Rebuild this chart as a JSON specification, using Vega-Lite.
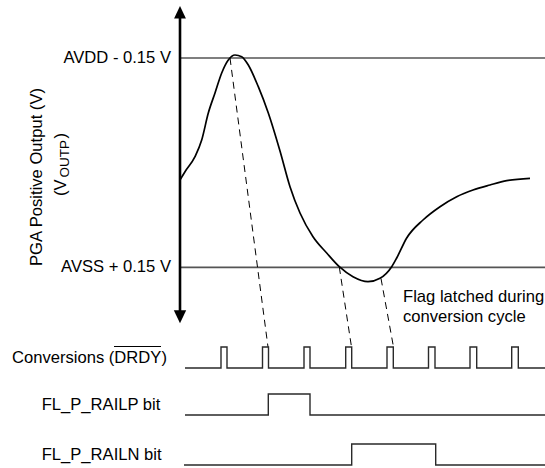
{
  "$schema": "https://vega.github.io/schema/vega-lite/v6.json",
  "width": 545,
  "height": 468,
  "autosize": "none",
  "padding": 0,
  "background": "white",
  "config": {"view": {"stroke": null}, "text": {"font": "Liberation Sans", "fontSize": 16.6, "color": "#000"}},
  "datasets": {
    "rails": [
      {"name": "AVDD", "x1": 180, "x2": 545, "y": 58},
      {"name": "AVSS", "x1": 180, "x2": 545, "y": 267.3}
    ],
    "vaxis": [{"x": 180, "y1": 16, "y2": 312}],
    "heads": [
      {"dir": "up", "x": 180, "y": 12.2},
      {"dir": "down", "x": 180, "y": 316.7}
    ],
    "curve": [
      {"x": 180, "y": 180}, {"x": 185, "y": 171.7}, {"x": 195, "y": 156.7}, {"x": 201.7, "y": 140},
      {"x": 208.3, "y": 113}, {"x": 215, "y": 93}, {"x": 221.7, "y": 73}, {"x": 228.3, "y": 60},
      {"x": 235, "y": 55}, {"x": 241.7, "y": 56.7}, {"x": 248.3, "y": 65}, {"x": 258.3, "y": 86.7},
      {"x": 268.3, "y": 113}, {"x": 280, "y": 151}, {"x": 290, "y": 186.7}, {"x": 300, "y": 213},
      {"x": 313, "y": 236.7}, {"x": 326.7, "y": 253}, {"x": 339.3, "y": 266.7}, {"x": 353, "y": 276.7},
      {"x": 368, "y": 281.7}, {"x": 380, "y": 278.3}, {"x": 391.7, "y": 266.7}, {"x": 396.7, "y": 258},
      {"x": 406.7, "y": 238}, {"x": 423, "y": 220}, {"x": 440, "y": 206.7}, {"x": 456.7, "y": 196.7},
      {"x": 473, "y": 190}, {"x": 490, "y": 185}, {"x": 506.7, "y": 180.7}, {"x": 530, "y": 178.3}
    ],
    "dashes": [
      {"g": 1, "x": 230, "y": 58}, {"g": 1, "x": 268, "y": 347},
      {"g": 2, "x": 339.3, "y": 267}, {"g": 2, "x": 351.5, "y": 347},
      {"g": 3, "x": 381, "y": 278.5}, {"g": 3, "x": 393.5, "y": 347}
    ],
    "signals": [
      {"s": "DRDY", "x": 185, "y": 368}, {"s": "DRDY", "x": 221, "y": 347}, {"s": "DRDY", "x": 227, "y": 368},
      {"s": "DRDY", "x": 262.5, "y": 347}, {"s": "DRDY", "x": 268.5, "y": 368},
      {"s": "DRDY", "x": 304, "y": 347}, {"s": "DRDY", "x": 310, "y": 368},
      {"s": "DRDY", "x": 345.7, "y": 347}, {"s": "DRDY", "x": 351.7, "y": 368},
      {"s": "DRDY", "x": 387, "y": 347}, {"s": "DRDY", "x": 393.3, "y": 368},
      {"s": "DRDY", "x": 428.5, "y": 347}, {"s": "DRDY", "x": 435, "y": 368},
      {"s": "DRDY", "x": 470, "y": 347}, {"s": "DRDY", "x": 476.7, "y": 368},
      {"s": "DRDY", "x": 511.7, "y": 347}, {"s": "DRDY", "x": 518.3, "y": 368},
      {"s": "DRDY", "x": 545, "y": 368},
      {"s": "RAILP", "x": 185, "y": 415}, {"s": "RAILP", "x": 268.3, "y": 394},
      {"s": "RAILP", "x": 310, "y": 415}, {"s": "RAILP", "x": 545, "y": 415},
      {"s": "RAILN", "x": 184, "y": 465}, {"s": "RAILN", "x": 351.7, "y": 444},
      {"s": "RAILN", "x": 435.7, "y": 465}, {"s": "RAILN", "x": 545, "y": 465}
    ],
    "overline": [{"x1": 114, "x2": 161, "y": 346.5}],
    "rightLabels": [
      {"text": "AVDD - 0.15 V", "x": 171, "y": 58},
      {"text": "AVSS + 0.15 V", "x": 171, "y": 267}
    ],
    "leftLabels": [
      {"text": "Conversions (DRDY)", "x": 12, "y": 357.5},
      {"text": "FL_P_RAILP bit", "x": 41.7, "y": 405},
      {"text": "FL_P_RAILN bit", "x": 41.7, "y": 455},
      {"text": "Flag latched during", "x": 403, "y": 297},
      {"text": "conversion cycle", "x": 403, "y": 317}
    ],
    "title1": [{"text": "PGA Positive Output (V)", "x": 41.5, "y": 177}],
    "title2": [
      {"text": "(V", "x": 66, "y": 196},
      {"text": ")", "x": 66, "y": 138.5}
    ],
    "title2sub": [{"text": "OUTP", "x": 69, "y": 177.5}]
  },
  "layer": [
    {
      "data": {"name": "rails"},
      "transform": [{"filter": "datum.name === 'AVDD'"}],
      "mark": {"type": "rule", "color": "#000", "strokeWidth": 1.2},
      "encoding": {
        "x": {"field": "x1", "type": "quantitative", "scale": {"domain": [0, 545], "nice": false, "zero": false}, "axis": null},
        "x2": {"field": "x2"},
        "y": {"field": "y", "type": "quantitative", "scale": {"domain": [0, 468], "nice": false, "zero": false, "reverse": true}, "axis": null}
      }
    },
    {
      "data": {"name": "rails"},
      "transform": [{"filter": "datum.name === 'AVSS'"}],
      "mark": {"type": "rule", "color": "#555", "strokeWidth": 1.8},
      "encoding": {
        "x": {"field": "x1", "type": "quantitative"},
        "x2": {"field": "x2"},
        "y": {"field": "y", "type": "quantitative"}
      }
    },
    {
      "data": {"name": "vaxis"},
      "mark": {"type": "rule", "color": "#000", "strokeWidth": 2.6},
      "encoding": {
        "x": {"field": "x", "type": "quantitative"},
        "y": {"field": "y1", "type": "quantitative"},
        "y2": {"field": "y2"}
      }
    },
    {
      "data": {"name": "heads"},
      "transform": [{"filter": "datum.dir === 'up'"}],
      "mark": {"type": "point", "shape": "M0,-1L0.95,1L-0.95,1Z", "size": 155, "filled": true, "color": "#000", "opacity": 1},
      "encoding": {
        "x": {"field": "x", "type": "quantitative"},
        "y": {"field": "y", "type": "quantitative"}
      }
    },
    {
      "data": {"name": "heads"},
      "transform": [{"filter": "datum.dir === 'down'"}],
      "mark": {"type": "point", "shape": "M0,1L0.95,-1L-0.95,-1Z", "size": 170, "filled": true, "color": "#000", "opacity": 1},
      "encoding": {
        "x": {"field": "x", "type": "quantitative"},
        "y": {"field": "y", "type": "quantitative"}
      }
    },
    {
      "data": {"name": "curve"},
      "mark": {"type": "line", "interpolate": "monotone", "color": "#000", "strokeWidth": 1.7},
      "encoding": {
        "x": {"field": "x", "type": "quantitative"},
        "y": {"field": "y", "type": "quantitative"}
      }
    },
    {
      "data": {"name": "dashes"},
      "mark": {"type": "line", "color": "#000", "strokeWidth": 1, "strokeDash": [7, 5]},
      "encoding": {
        "x": {"field": "x", "type": "quantitative"},
        "y": {"field": "y", "type": "quantitative"},
        "detail": {"field": "g", "type": "nominal"}
      }
    },
    {
      "data": {"name": "signals"},
      "mark": {"type": "line", "interpolate": "step-after", "color": "#2a2a2a", "strokeWidth": 1.4},
      "encoding": {
        "x": {"field": "x", "type": "quantitative"},
        "y": {"field": "y", "type": "quantitative"},
        "detail": {"field": "s", "type": "nominal"}
      }
    },
    {
      "data": {"name": "overline"},
      "mark": {"type": "rule", "color": "#000", "strokeWidth": 1},
      "encoding": {
        "x": {"field": "x1", "type": "quantitative"},
        "x2": {"field": "x2"},
        "y": {"field": "y", "type": "quantitative"}
      }
    },
    {
      "data": {"name": "rightLabels"},
      "mark": {"type": "text", "align": "right", "baseline": "middle"},
      "encoding": {
        "x": {"field": "x", "type": "quantitative"},
        "y": {"field": "y", "type": "quantitative"},
        "text": {"field": "text"}
      }
    },
    {
      "data": {"name": "leftLabels"},
      "mark": {"type": "text", "align": "left", "baseline": "middle"},
      "encoding": {
        "x": {"field": "x", "type": "quantitative"},
        "y": {"field": "y", "type": "quantitative"},
        "text": {"field": "text"}
      }
    },
    {
      "data": {"name": "title1"},
      "mark": {"type": "text", "align": "center", "baseline": "alphabetic", "angle": 270},
      "encoding": {
        "x": {"field": "x", "type": "quantitative"},
        "y": {"field": "y", "type": "quantitative"},
        "text": {"field": "text"}
      }
    },
    {
      "data": {"name": "title2"},
      "mark": {"type": "text", "align": "left", "baseline": "alphabetic", "angle": 270},
      "encoding": {
        "x": {"field": "x", "type": "quantitative"},
        "y": {"field": "y", "type": "quantitative"},
        "text": {"field": "text"}
      }
    },
    {
      "data": {"name": "title2sub"},
      "mark": {"type": "text", "align": "left", "baseline": "alphabetic", "angle": 270, "fontSize": 13.5},
      "encoding": {
        "x": {"field": "x", "type": "quantitative"},
        "y": {"field": "y", "type": "quantitative"},
        "text": {"field": "text"}
      }
    }
  ]
}
